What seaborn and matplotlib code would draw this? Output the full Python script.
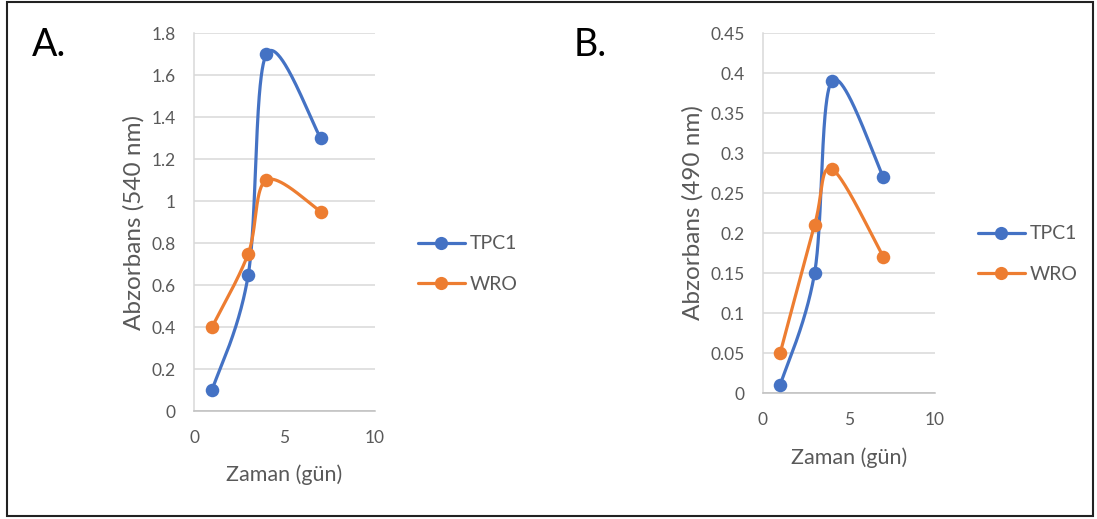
import numpy as np
import pandas as pd
import seaborn as sns
import matplotlib
matplotlib.use('Agg')
import matplotlib.pyplot as plt
from matplotlib.lines import Line2D
from matplotlib.patches import Rectangle
from matplotlib.ticker import FuncFormatter

# Veriler
days = [1, 3, 4, 7]
series_names = ["TPC1", "WRO"]
tpc1_540 = [0.1, 0.65, 1.7, 1.3]
wro_540 = [0.4, 0.75, 1.1, 0.95]
tpc1_490 = [0.01, 0.15, 0.39, 0.27]
wro_490 = [0.05, 0.21, 0.28, 0.17]
yticks_540 = [0, 0.2, 0.4, 0.6, 0.8, 1, 1.2, 1.4, 1.6, 1.8]
yticks_490 = [0, 0.05, 0.1, 0.15, 0.2, 0.25, 0.3, 0.35, 0.4, 0.45]
xticks = [0, 5, 10]
panel_labels = ["A.", "B."]
ylabels = ["Abzorbans (540 nm)", "Abzorbans (490 nm)"]
xlabel = "Zaman (gün)"

colors = {"TPC1": "#4472C4", "WRO": "#ED7D31"}
text_gray = "#595959"

sns.set_style("white")
plt.rcParams['font.family'] = ['Lato', 'DejaVu Sans']


def excel_smooth(xs, ys, n=80):
    # Excel tarzı yumuşatılmış çizgi (Catmull-Rom -> Bezier)
    p = np.column_stack([xs, ys]).astype(float)
    pe = np.vstack([p[0], p, p[-1]])
    t = np.linspace(0, 1, n)[:, None]
    segs = []
    for i in range(len(p) - 1):
        p0, p1, p2, p3 = pe[i], pe[i + 1], pe[i + 2], pe[i + 3]
        c1 = p1 + (p2 - p0) / 6
        c2 = p2 - (p3 - p1) / 6
        seg = (1 - t) ** 3 * p1 + 3 * (1 - t) ** 2 * t * c1 + 3 * (1 - t) * t ** 2 * c2 + t ** 3 * p2
        segs.append(seg if i == 0 else seg[1:])
    pts = np.vstack(segs)
    return pts[:, 0], pts[:, 1]


W, H = 1097, 519
fig = plt.figure(figsize=(W / 100, H / 100), dpi=100)

panels = [
    dict(box=(194, 375, 33, 411), data={"TPC1": tpc1_540, "WRO": wro_540}, yticks=yticks_540,
         ylabel=ylabels[0], label=panel_labels[0], lab_x=32, ylab_x=134, xlab_y=475,
         leg=(418, 264)),
    dict(box=(763, 935, 33, 393), data={"TPC1": tpc1_490, "WRO": wro_490}, yticks=yticks_490,
         ylabel=ylabels[1], label=panel_labels[1], lab_x=574, ylab_x=693, xlab_y=458,
         leg=(978, 254)),
]

for pn in panels:
    x0, x1, y0, y1 = pn["box"]
    ax = fig.add_axes([x0 / W, 1 - y1 / H, (x1 - x0) / W, (y1 - y0) / H])
    for k, name in enumerate(series_names):
        vals = pn["data"][name]
        sx, sy = excel_smooth(days, vals)
        sns.lineplot(x=sx, y=sy, sort=False, estimator=None, color=colors[name],
                     linewidth=2.3, ax=ax, zorder=3 + 2 * k)
        sns.scatterplot(x=days, y=vals, color=colors[name], s=95, linewidth=0,
                        ax=ax, zorder=4 + 2 * k, clip_on=False)

    ax.set_xlim(0, 10)
    ax.set_ylim(pn["yticks"][0], pn["yticks"][-1])
    ax.set_xticks(xticks)
    ax.set_yticks(pn["yticks"])
    ax.yaxis.set_major_formatter(FuncFormatter(lambda v, p: f"{round(v, 2):g}"))
    ax.tick_params(axis='both', length=0, labelsize=12.5, labelcolor=text_gray)
    ax.tick_params(axis='y', pad=13)
    ax.tick_params(axis='x', pad=14)
    ax.grid(axis='y', color="#D9D9D9", linewidth=1.1)
    ax.grid(axis='x', visible=False)
    ax.set_axisbelow(True)
    sns.despine(ax=ax, top=True, right=True)
    ax.spines['left'].set_color("#D9D9D9")
    ax.spines['left'].set_linewidth(1.1)
    ax.spines['bottom'].set_color("#BFBFBF")
    ax.spines['bottom'].set_linewidth(1.1)

    ax.set_xlabel(xlabel, fontsize=15.5, color=text_gray)
    ax.set_ylabel(pn["ylabel"], fontsize=17.5, color=text_gray)
    ax.xaxis.label.set_va('center')
    ax.yaxis.label.set_va('center')
    ax.xaxis.set_label_coords(0.5, -(pn["xlab_y"] - y1) / (y1 - y0))
    ax.yaxis.set_label_coords((pn["ylab_x"] - x0) / (x1 - x0), 0.5)

    handles = [Line2D([0], [0], color=colors[n], linewidth=2.3, marker='o',
                      markersize=9.5, markeredgewidth=0) for n in series_names]
    lx, ly = pn["leg"]
    fig.legend(handles, series_names, loc='center left', bbox_to_anchor=(lx / W, 1 - ly / H),
               frameon=False, fontsize=14, labelcolor=text_gray, handlelength=2.4,
               handletextpad=0.25, labelspacing=1.2, borderpad=0, borderaxespad=0)

    fig.text(pn["lab_x"] / W, 1 - 56 / H, pn["label"], fontsize=27, color="black",
             va='baseline', ha='left')

# Dış çerçeve
fig.patches.append(Rectangle((7 / W, 1 - 516 / H), (1093 - 7) / W, (516 - 2) / H,
                             transform=fig.transFigure, fill=False, edgecolor="#222222",
                             linewidth=1.5))

plt.savefig("out.png", dpi=100)
plt.close()
